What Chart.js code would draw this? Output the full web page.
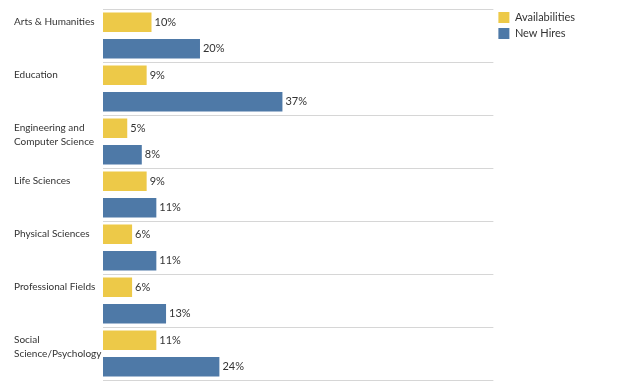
<!DOCTYPE html>
<html>
<head>
<meta charset="utf-8">
<script src="https://cdn.jsdelivr.net/npm/chart.js@4"></script>
<style>
  html, body { margin: 0; padding: 0; background: #fff; }
  #wrap { width: 624px; height: 390px; }
</style>
</head>
<body>
<div id="wrap"><canvas id="hiresChart"></canvas></div>
<script>
const categories = [
  'Arts & Humanities',
  'Education',
  ['Engineering and', 'Computer Science'],
  'Life Sciences',
  'Physical Sciences',
  'Professional Fields',
  ['Social', 'Science/Psychology']
];
const availabilities = [10, 9, 5, 9, 6, 6, 11];
const newHires = [20, 37, 8, 11, 11, 13, 24];
const seriesNames = ['Availabilities', 'New Hires'];

const FONT = 'Lato';

// percent labels at the end of each bar
const valueLabels = {
  id: 'valueLabels',
  afterDatasetsDraw(chart) {
    const ctx = chart.ctx;
    ctx.save();
    ctx.font = '11px ' + FONT;
    ctx.fillStyle = '#333';
    ctx.textBaseline = 'middle';
    ctx.textAlign = 'left';
    chart.data.datasets.forEach((ds, di) => {
      chart.getDatasetMeta(di).data.forEach((bar, i) => {
        ctx.fillText(ds.data[i] + '%', bar.x + 3, bar.y);
      });
    });
    ctx.restore();
  }
};

const config = {
  type: 'bar',
  data: {
    labels: categories,
    datasets: [
      {
        label: seriesNames[0],
        data: availabilities,
        backgroundColor: '#EDC948',
        borderWidth: 0,
        categoryPercentage: 1,
        barPercentage: 0.74
      },
      {
        label: seriesNames[1],
        data: newHires,
        backgroundColor: '#4E79A7',
        borderWidth: 0,
        categoryPercentage: 1,
        barPercentage: 0.74
      }
    ]
  },
  options: {
    indexAxis: 'y',
    responsive: true,
    maintainAspectRatio: false,
    animation: false,
    layout: {
      padding: { left: 14, right: 39, top: 7, bottom: 10 }
    },
    scales: {
      x: {
        position: 'top',
        min: 0,
        max: 80.5,
        grid: { display: false },
        border: { display: false },
        ticks: { display: false },
        afterFit(s) { s.height = 2; }
      },
      y: {
        grid: { color: '#d6d6d6', lineWidth: 1, drawTicks: false, offset: true },
        border: { display: false },
        ticks: {
          color: '#333',
          font: { family: FONT, size: 10, lineHeight: 1.4 },
          crossAlign: 'far',
          padding: 0,
          labelOffset: -6.25,
          callback: (v, i) => {
            const lines = [].concat(categories[i]);
            if (lines.length < 2) lines.push('');
            return lines;
          }
        },
        afterFit(s) {
          s.width = 89;
          s.paddingTop = 0;
          s.paddingBottom = 0;
        }
      }
    },
    plugins: {
      legend: {
        position: 'right',
        align: 'start',
        labels: {
          boxWidth: 11,
          boxHeight: 11,
          padding: 5,
          color: '#333',
          font: { family: FONT, size: 11 }
        }
      },
      tooltip: { enabled: false }
    }
  },
  plugins: [valueLabels]
};

window.onload = function() {
  const ctx = document.getElementById('hiresChart').getContext('2d');
  new Chart(ctx, config);
};
</script>
</body>
</html>
